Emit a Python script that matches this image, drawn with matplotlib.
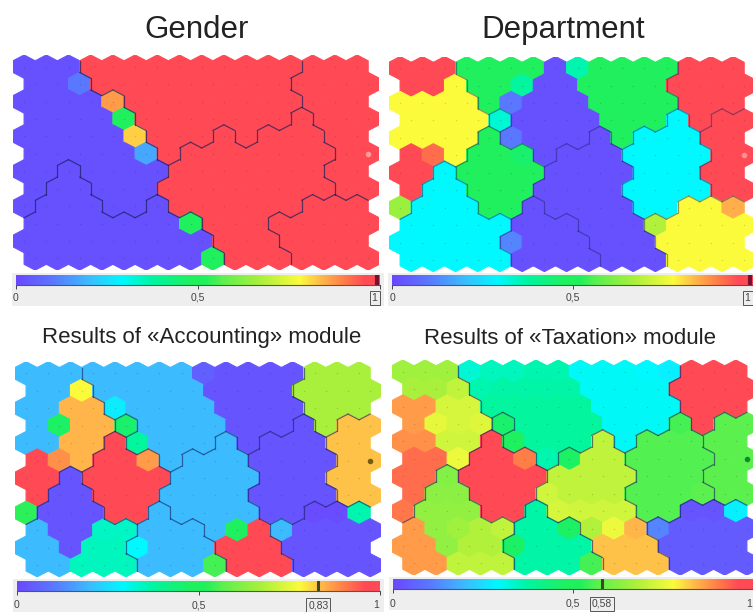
import matplotlib
matplotlib.use("Agg")
import matplotlib.pyplot as plt
import numpy as np
from matplotlib.collections import PolyCollection, LineCollection
from matplotlib.colors import LinearSegmentedColormap

plt.rcParams['font.family'] = ['Liberation Sans', 'DejaVu Sans']

# neuron values in percent, 12 rows of 16
gender = [
    [2, 2, 2, 97, 97, 97, 97, 97, 97, 97, 97, 97, 97, 97, 97, 97],
    [2, 2, 10, 97, 97, 97, 97, 97, 97, 97, 97, 97, 97, 97, 97, 97],
    [2, 2, 2, 2, 87, 97, 97, 97, 97, 97, 97, 97, 97, 97, 97, 97],
    [2, 2, 2, 2, 50, 97, 97, 97, 97, 97, 97, 97, 97, 97, 97, 97],
    [2, 2, 2, 2, 2, 82, 97, 97, 97, 97, 97, 97, 97, 97, 97, 97],
    [2, 2, 2, 2, 2, 17, 97, 97, 97, 97, 97, 97, 97, 97, 97, 97],
    [2, 2, 2, 2, 2, 2, 2, 97, 97, 97, 97, 97, 97, 97, 97, 97],
    [2, 2, 2, 2, 2, 2, 97, 97, 97, 97, 97, 97, 97, 97, 97, 97],
    [2, 2, 2, 2, 2, 2, 2, 97, 97, 97, 97, 97, 97, 97, 97, 97],
    [2, 2, 2, 2, 2, 2, 2, 50, 97, 97, 97, 97, 97, 97, 97, 97],
    [2, 2, 2, 2, 2, 2, 2, 2, 2, 97, 97, 97, 97, 97, 97, 97],
    [2, 2, 2, 2, 2, 2, 2, 2, 50, 97, 97, 97, 97, 97, 97, 97],
]
department = [
    [97, 97, 97, 50, 50, 50, 50, 2, 36, 50, 50, 50, 50, 97, 97, 97],
    [97, 97, 78, 50, 50, 38, 2, 2, 50, 50, 50, 50, 97, 97, 97, 97],
    [78, 78, 78, 78, 50, 10, 2, 2, 2, 50, 50, 50, 50, 97, 97, 97],
    [78, 78, 78, 78, 33, 2, 2, 2, 2, 50, 50, 50, 29, 97, 97, 97],
    [78, 78, 78, 78, 50, 10, 2, 2, 2, 2, 50, 29, 29, 29, 97, 97],
    [97, 92, 78, 50, 50, 46, 2, 2, 2, 2, 29, 29, 29, 29, 97, 97],
    [97, 97, 29, 50, 50, 50, 50, 2, 2, 2, 2, 29, 29, 29, 97, 97],
    [97, 29, 29, 50, 50, 50, 2, 2, 2, 2, 29, 29, 29, 29, 97, 97],
    [65, 29, 29, 29, 50, 50, 2, 2, 2, 2, 2, 29, 29, 78, 78, 85],
    [29, 29, 29, 29, 29, 2, 2, 2, 2, 2, 2, 68, 78, 78, 78, 78],
    [29, 29, 29, 29, 29, 12, 2, 2, 2, 2, 2, 2, 78, 78, 78, 78],
    [29, 29, 29, 29, 29, 2, 2, 2, 2, 2, 2, 2, 78, 78, 78, 78],
]
accounting = [
    [20, 20, 20, 20, 20, 20, 20, 20, 5, 3, 3, 3, 3, 67, 67, 67],
    [20, 20, 78, 20, 20, 20, 20, 20, 3, 3, 3, 3, 67, 67, 67, 67],
    [20, 20, 84, 84, 27, 20, 20, 20, 20, 3, 3, 3, 3, 67, 67, 67],
    [20, 47, 84, 84, 46, 20, 20, 20, 20, 3, 3, 3, 3, 67, 83, 83],
    [20, 20, 84, 84, 97, 38, 20, 20, 20, 20, 3, 3, 3, 3, 83, 83],
    [97, 88, 84, 97, 97, 87, 20, 20, 20, 20, 3, 3, 3, 3, 83, 83],
    [97, 97, 3, 97, 97, 97, 97, 20, 20, 20, 20, 3, 3, 3, 83, 83],
    [97, 3, 3, 97, 97, 97, 20, 20, 20, 20, 3, 3, 3, 3, 83, 83],
    [53, 3, 3, 3, 97, 97, 20, 20, 20, 20, 20, 3, 3, 1, 1, 36],
    [20, 3, 3, 34, 34, 20, 20, 20, 20, 48, 97, 20, 3, 3, 3, 3],
    [20, 20, 3, 35, 35, 29, 20, 20, 20, 97, 97, 97, 3, 3, 3, 3],
    [20, 20, 35, 35, 35, 20, 20, 20, 55, 97, 97, 97, 3, 3, 3, 3],
]
taxation = [
    [66, 66, 66, 33, 35, 35, 36, 36, 30, 30, 30, 29, 28, 97, 97, 97],
    [67, 67, 70, 36, 37, 37, 37, 37, 30, 30, 30, 30, 97, 97, 97, 97],
    [87, 87, 73, 73, 38, 38, 38, 38, 38, 30, 30, 30, 30, 97, 97, 97],
    [87, 75, 73, 74, 46, 38, 38, 38, 38, 30, 30, 30, 55, 97, 57, 57],
    [88, 88, 72, 72, 97, 48, 38, 38, 38, 70, 30, 56, 56, 56, 57, 57],
    [92, 92, 76, 97, 97, 90, 36, 47, 70, 70, 56, 56, 56, 56, 57, 57],
    [92, 92, 62, 97, 97, 97, 97, 70, 70, 70, 70, 56, 56, 56, 57, 57],
    [92, 63, 63, 97, 97, 97, 72, 70, 70, 70, 56, 56, 56, 57, 57, 57],
    [91, 64, 64, 64, 97, 97, 37, 73, 72, 72, 72, 56, 56, 3, 3, 28],
    [87, 64, 66, 68, 70, 37, 37, 47, 68, 76, 84, 12, 4, 4, 4, 4],
    [87, 87, 64, 68, 68, 47, 37, 37, 37, 83, 83, 83, 4, 4, 4, 4],
    [87, 87, 70, 70, 70, 37, 37, 37, 55, 83, 83, 83, 4, 4, 4, 4],
]

# cluster letters, a line is drawn between neurons with different letters
clusters_gender = [
    "aaaccccccccccddd",
    "aaacccccccccdddd",
    "aaaaaccccccccddd",
    "aaaaaccccccceddd",
    "aaaaaaccceceeedd",
    "aaaaaaceeeeeeedd",
    "aabaaaaeeeeeeedd",
    "abbaaaeeeeeeeedd",
    "abbbaabeeeeeefff",
    "bbbbbbbbeeefffff",
    "bbbbbbbbbeeeffff",
    "bbbbbbbbbeeeffff",
]
clusters_other = [
    "aaaccccccccccddd",
    "aaacccccccccdddd",
    "aaaacccccccccddd",
    "aaaakcccccccidhh",
    "aaaagcccceciiihh",
    "aaagggceeeiiiihh",
    "aabggggeeeeiiihh",
    "abbgggeeeeiiiihh",
    "abbbggjeeeeiifff",
    "bbbbbjjjeeefffff",
    "bbbbbjjjjeeeffff",
    "bbbbbjjjjeeeffff",
]

titles = ["Gender", "Department", "Results of «Accounting» module", "Results of «Taxation» module"]
selected = [1.0, 1.0, 0.83, 0.58]
selected_text = ["1", "1", "0,83", "0,58"]
marker_colors = ["#ff9a9a", "#ff8f8f", "#7a5a10", "#128a2a"]

cmap_nodes = [(0.0, "#6a48ff"), (0.10, "#5a78ff"), (0.20, "#3cbcff"), (0.29, "#00f8ff"),
              (0.37, "#00f5a5"), (0.48, "#1ff05e"), (0.52, "#20f05c"), (0.57, "#5ef04e"),
              (0.67, "#a8f03c"), (0.78, "#fbfb3c"), (0.84, "#ffb84a"), (0.90, "#ff8048"),
              (0.96, "#ff4a55"), (1.0, "#ff4a55")]
som = LinearSegmentedColormap.from_list("som", cmap_nodes)

W, H = 753, 612
DX, DY = 22.2, 17.44
ROW_HALF = 2 / 3


def hex_corners(row, col):
    x = col + 0.5 * (row % 2)
    return [(x - 0.5, row - ROW_HALF / 2), (x, row - ROW_HALF), (x + 0.5, row - ROW_HALF / 2),
            (x + 0.5, row + ROW_HALF / 2), (x, row + ROW_HALF), (x - 0.5, row + ROW_HALF / 2)]


def border_segments(labels):
    segs = []
    for r in range(12):
        for c in range(16):
            pts = hex_corners(r, c)
            shift = r % 2
            # right, lower right, lower left neighbours and the edge shared with each
            for nr, nc, a, b in [(r, c + 1, 2, 3), (r + 1, c + shift, 3, 4), (r + 1, c + shift - 1, 4, 5)]:
                if 0 <= nr < 12 and 0 <= nc < 16 and labels[nr][nc] != labels[r][c]:
                    segs.append([pts[a], pts[b]])
    return segs


def pixel_axes(fig, left, top, width, height):
    return fig.add_axes([left / W, 1 - (top + height) / H, width / W, height / H])


def draw_map(fig, left, top, values, labels, marker, line_alpha):
    ax = pixel_axes(fig, left, top, 16.5 * DX, 12 * DY + DY / 3)
    verts = [hex_corners(r, c) for r in range(12) for c in range(16)]
    vals = np.array(values).ravel() / 100
    hexes = PolyCollection(verts, array=vals, cmap=som, clim=(0, 1), edgecolors="face", linewidths=0.8)
    ax.add_collection(hexes)
    xs = [c + 0.5 * (r % 2) for r in range(12) for c in range(16)]
    ys = [r for r in range(12) for c in range(16)]
    ax.scatter(xs, ys, s=1.2, c="#000000", alpha=0.14, linewidths=0)
    ax.add_collection(LineCollection(border_segments(labels), colors="#17205e", linewidths=0.9,
                                     alpha=line_alpha, capstyle="round"))
    ax.scatter([15.5], [5], s=16, c=marker, linewidths=0, zorder=4)
    ax.set_xlim(-0.5, 16)
    ax.set_ylim(11 + ROW_HALF, -ROW_HALF)
    ax.set_facecolor("#f5f5f5")
    ax.axis("off")
    return ax


def draw_bar(fig, left, top, width, value, text, label_y):
    strip = pixel_axes(fig, left - 4, top - 2, width + 8, 33)
    strip.set_facecolor("#eeeeee")
    strip.set_xticks([])
    strip.set_yticks([])
    for s in strip.spines.values():
        s.set_visible(False)
    ax = pixel_axes(fig, left, top, width, 10)
    grad = np.linspace(0, 1, 256).reshape(1, -1)
    ax.imshow(grad, cmap=som, aspect="auto", extent=[0, 1, 0, 1], vmin=0, vmax=1)
    if value < 1:
        ax.axvline(value, color="#3a4a20", lw=2.2)
    else:
        ax.axvline(0.992, color="#7a1030", lw=3)
    ax.set_yticks([])
    ax.set_xticks([0, 0.5, 1])
    ax.set_xticklabels([])
    ax.tick_params(axis="x", length=3, width=0.7, color="#444444")
    for s in ["top", "left", "right"]:
        ax.spines[s].set_visible(False)
    ax.spines["bottom"].set_color("#555555")
    style = dict(transform=ax.transAxes, fontsize=7.5, color="#444444", va="center")
    ax.text(0, label_y, "0", ha="center", **style)
    ax.text(0.5, label_y, "0,5", ha="center", **style)
    if value < 1:
        ax.text(0.998, label_y, "1", ha="right", **style)
    box_x = value if value < 1 else 0.985
    ax.text(box_x, label_y, text, ha="center", bbox=dict(boxstyle="square,pad=0.2", fc="#eeeeee", ec="#555555", lw=0.7), **style)


fig = plt.figure(figsize=(W / 100, H / 100), dpi=100, facecolor="white")

draw_map(fig, 13, 55, gender, clusters_gender, marker_colors[0], 0.7)
draw_map(fig, 389, 56.5, department, clusters_other, marker_colors[1], 0.45)
draw_map(fig, 15, 361.7, accounting, clusters_other, marker_colors[2], 0.6)
draw_map(fig, 391.7, 360, taxation, clusters_other, marker_colors[3], 0.6)

draw_bar(fig, 16, 275, 364, selected[0], selected_text[0], -1.3)
draw_bar(fig, 392, 275, 361, selected[1], selected_text[1], -1.3)
draw_bar(fig, 17, 581, 363, selected[2], selected_text[2], -1.4)
draw_bar(fig, 393, 579, 360, selected[3], selected_text[3], -1.5)

fig.text(197 / W, 1 - 30 / H, titles[0], fontsize=22.5, ha="center", va="center", color="#222222")
fig.text(563 / W, 1 - 30 / H, titles[1], fontsize=22.5, ha="center", va="center", color="#222222")
fig.text(202 / W, 1 - 338 / H, titles[2], fontsize=16, ha="center", va="center", color="#222222")
fig.text(570 / W, 1 - 338 / H, titles[3], fontsize=16, ha="center", va="center", color="#222222")

fig.savefig("out.png", dpi=100)
plt.close(fig)
